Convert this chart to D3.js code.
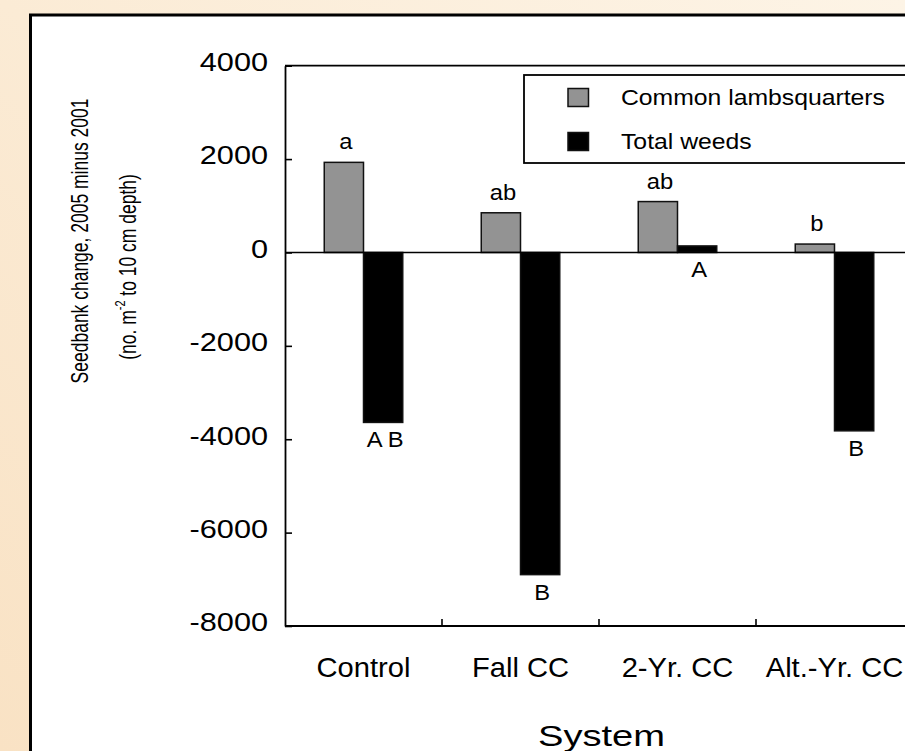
<!DOCTYPE html>
<html>
<head>
<meta charset="utf-8">
<script src="https://cdn.jsdelivr.net/npm/d3@7"></script>
<style>
  html, body { margin: 0; padding: 0; background: #fbecd7; }
  svg { display: block; }
  text { font-family: "Liberation Sans", Arial, Helvetica, sans-serif; fill: #000; }
</style>
</head>
<body>
<svg id="chart" width="905" height="751"></svg>
<script>
// ---- data ----
const categories = ["Control", "Fall CC", "2-Yr. CC", "Alt.-Yr. CC"];
const seriesNames = ["Common lambsquarters", "Total weeds"];
const lambsquarters = [1930, 850, 1090, 180];
const totalWeeds = [-3640, -6900, 140, -3820];
const lambsLetters = ["a", "ab", "ab", "b"];
const weedLetters = ["A B", "B", "A", "B"];
const yTicks = [-8000, -6000, -4000, -2000, 0, 2000, 4000];

const svg = d3.select("#chart");
const W = 905, H = 751;
const SX = 1.15; // horizontal stretch of the original picture

// background gradient
const defs = svg.append("defs");
const grad = defs.append("linearGradient").attr("id", "bg").attr("x1", "0").attr("y1", "1").attr("x2", "1").attr("y2", "0");
grad.append("stop").attr("offset", "0").attr("stop-color", "#f9e2c4");
grad.append("stop").attr("offset", "1").attr("stop-color", "#fdf4e6");
svg.append("rect").attr("width", W).attr("height", H).attr("fill", "url(#bg)");

// white panel with black border
svg.append("rect").attr("x", 30.5).attr("y", 15).attr("width", 1000).attr("height", 1000)
  .attr("fill", "#fff").attr("stroke", "#000").attr("stroke-width", 3);

// scales
const plotL = 285, plotR = 913, plotT = 65.7, plotB = 626;
const y = d3.scaleLinear().domain([-8000, 4000]).range([plotB, plotT]);
const x0 = d3.scaleBand().domain(categories).range([plotL, plotR]).paddingInner(0).paddingOuter(0);
const x1 = d3.scaleBand().domain(seriesNames).range([0, x0.bandwidth()]).paddingInner(0).paddingOuter(1);

const colors = { "Common lambsquarters": "#939393", "Total weeds": "#000" };

const rows = categories.map((c, i) => ({
  cat: c,
  vals: [
    { s: seriesNames[0], v: lambsquarters[i], letter: lambsLetters[i] },
    { s: seriesNames[1], v: totalWeeds[i], letter: weedLetters[i] }
  ]
}));

// frame: top, right, bottom lines
const frame = svg.append("g").attr("fill", "none").attr("stroke", "#000").attr("stroke-width", 1.8);
frame.append("line").attr("x1", plotL).attr("x2", plotR).attr("y1", y(4000)).attr("y2", y(4000));
frame.append("line").attr("x1", plotL).attr("x2", plotR).attr("y1", y(-8000)).attr("y2", y(-8000));
frame.append("line").attr("x1", plotR).attr("x2", plotR).attr("y1", y(4000)).attr("y2", y(-8000));

// category boundary ticks (pointing up from bottom)
svg.append("g").selectAll("line").data(categories.slice(1)).join("line")
  .attr("x1", d => x0(d)).attr("x2", d => x0(d))
  .attr("y1", y(-8000)).attr("y2", y(-8000) - 7)
  .attr("stroke", "#000").attr("stroke-width", 1.6);

// bars
const groups = svg.append("g").selectAll("g").data(rows).join("g")
  .attr("transform", d => `translate(${x0(d.cat)},0)`);

groups.selectAll("rect").data(d => d.vals).join("rect")
  .attr("x", d => x1(d.s))
  .attr("width", x1.bandwidth())
  .attr("y", d => y(Math.max(0, d.v)))
  .attr("height", d => Math.abs(y(d.v) - y(0)))
  .attr("fill", d => colors[d.s])
  .attr("stroke", "#111").attr("stroke-width", 1.5);

// zero line
svg.append("line").attr("x1", plotL).attr("x2", plotR).attr("y1", y(0)).attr("y2", y(0))
  .attr("stroke", "#000").attr("stroke-width", 1.5);

// significance letters
groups.selectAll("text.sig").data(d => d.vals).join("text")
  .attr("class", "sig")
  .attr("text-anchor", "middle")
  .attr("font-size", 22)
  .attr("transform", d => {
    const cx = x1(d.s) + x1.bandwidth() / 2 + 2;
    const ty = d.s === seriesNames[0] ? y(d.v) - 13 : Math.max(y(d.v), y(0)) + 25;
    return `translate(${cx},${ty}) scale(1.08,1)`;
  })
  .text(d => d.letter);

// y axis
const yAxis = d3.axisLeft(y).tickValues(yTicks).tickSizeInner(-7).tickSizeOuter(0).tickFormat(d => String(d));
const gy = svg.append("g").attr("transform", `translate(${plotL},0)`).call(yAxis);
gy.select(".domain").attr("stroke", "#000").attr("stroke-width", 1.8);
gy.selectAll(".tick line").attr("stroke", "#000").attr("stroke-width", 1.6);
gy.selectAll(".tick text")
  .attr("x", null).attr("dy", null)
  .attr("text-anchor", "end")
  .attr("font-size", 26)
  .attr("fill", "#000")
  .attr("transform", `translate(-17,4.8) scale(${SX + 0.03},1)`);
gy.attr("font-size", null).attr("font-family", null);

// x axis labels (band centers)
const xAxis = d3.axisBottom(x0).tickSize(0).tickPadding(0);
const gx = svg.append("g").attr("transform", `translate(0,${plotB})`).call(xAxis);
gx.select(".domain").remove();
gx.attr("font-size", null).attr("font-family", null);
gx.selectAll(".tick text")
  .attr("y", null).attr("dy", null)
  .attr("text-anchor", "middle")
  .attr("font-size", 27.5)
  .attr("fill", "#000")
  .attr("transform", `translate(0,51) scale(1.06,1)`);

// axis titles
svg.append("text")
  .attr("text-anchor", "middle").attr("font-size", 30)
  .attr("transform", `translate(601.5,746) scale(1.27,1)`)
  .text("System");

const TS = 1.4; // stretch of rotated title glyphs
svg.append("text")
  .attr("text-anchor", "middle").attr("font-size", 17.5)
  .attr("transform", `translate(87.5,241) scale(${TS},1) rotate(-90)`)
  .text("Seedbank change, 2005 minus 2001");

const t2 = svg.append("text")
  .attr("text-anchor", "middle").attr("font-size", 17.5)
  .attr("transform", `translate(136,267) scale(${TS},1) rotate(-90)`);
t2.append("tspan").text("(no. m");
t2.append("tspan").attr("font-size", 11).attr("dy", -8).text("-2");
t2.append("tspan").attr("dy", 8).text(" to 10 cm depth)");

// legend
const lg = svg.append("g");
lg.append("rect").attr("x", 524).attr("y", 75).attr("width", 500).attr("height", 88)
  .attr("fill", "#fff").attr("stroke", "#000").attr("stroke-width", 1.8);
const items = lg.selectAll("g").data(seriesNames).join("g")
  .attr("transform", (d, i) => `translate(0,${i * 44})`);
items.append("rect").attr("x", 568).attr("y", 88.5).attr("width", 20.5).attr("height", 18)
  .attr("fill", d => colors[d]).attr("stroke", "#111").attr("stroke-width", 1.5);
items.append("text").attr("font-size", 22.5)
  .attr("transform", `translate(621,105) scale(1.1,1)`)
  .text(d => d);
</script>
</body>
</html>
